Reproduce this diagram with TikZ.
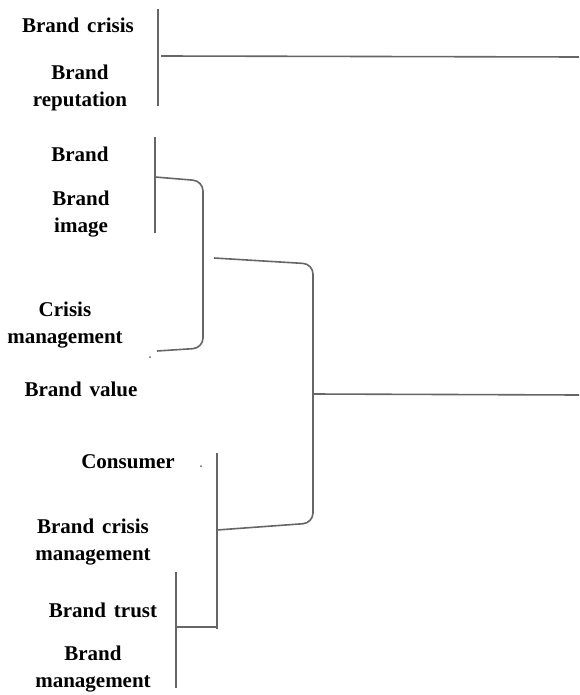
\documentclass[tikz,border=0pt]{standalone}
\usepackage{fontspec}
\setmainfont[WordSpace=1.5]{Liberation Serif}
\usetikzlibrary{positioning}
\tikzstyle{term}=[font=\bfseries\fontsize{21}{27}\selectfont,align=center,inner sep=0pt]
\tikzstyle{link}=[draw=black!60,line width=1.6pt]
\tikzstyle{elbow}=[link,rounded corners=10pt]
\tikzstyle{speck}=[fill=black!60,circle,inner sep=0pt,minimum size=2pt]
\begin{document}
\begin{tikzpicture}[x=1pt,y=-1pt]
    \useasboundingbox (0,0) rectangle (579,695);
    % terms
    \node[term] (bc) at (78,25) {Brand crisis};
    \node[term] (br) at (80,88) {Brand\\reputation};
    \node[term] (b) at (80,154) {Brand};
    \node[term] (bi) at (81,214) {Brand\\image};
    \node[term] (cm) at (65,325) {Crisis\\management};
    \node[term] (bv) at (81,389) {Brand value};
    \node[term] (con) at (128,462) {Consumer};
    \node[term] (bcm) at (93,542) {Brand crisis\\management};
    \node[term] (bt) at (103,610) {Brand trust};
    \node[term] (bm) at (93,669) {Brand\\management};
    % cluster 1
    \coordinate (c1t) at (158,9);
    \coordinate (c1b) at (158,106);
    \coordinate (c1m) at (161,56);
    \coordinate (c1e) at (579,57);
    \draw[link] (c1t) -- (c1b);
    \draw[link] (c1m) -- (c1e);
    % cluster 2
    \coordinate (c2t) at (155,137);
    \coordinate (c2b) at (155,233);
    \coordinate (c2m) at (155,177);
    \coordinate (c2r) at (203,181);
    \coordinate (c2s) at (203,348);
    \coordinate (c2l) at (157,351);
    \draw[link] (c2t) -- (c2b);
    \draw[elbow] (c2m) -- (c2r) -- (c2s) -- (c2l);
    % cluster 3
    \coordinate (c3a) at (214,258);
    \coordinate (c3r) at (313,264);
    \coordinate (c3s) at (313,523);
    \coordinate (c3l) at (217,530);
    \coordinate (c3m) at (313,394);
    \coordinate (c3e) at (579,395);
    \draw[elbow] (c3a) -- (c3r) -- (c3s) -- (c3l);
    \draw[link] (c3m) -- (c3e);
    % cluster 4
    \coordinate (c4t) at (217,453);
    \coordinate (c4b) at (217,629);
    \coordinate (c4m) at (217,627);
    \coordinate (c5m) at (176,627);
    \coordinate (c5t) at (176,572);
    \coordinate (c5b) at (176,688);
    \draw[link] (c4t) -- (c4b);
    \draw[link] (c5m) -- (c4m);
    \draw[link] (c5t) -- (c5b);
    % specks
    \node[speck] (s1) at (150,357) {};
    \node[speck] (s2) at (201,466) {};
\end{tikzpicture}
\end{document}
